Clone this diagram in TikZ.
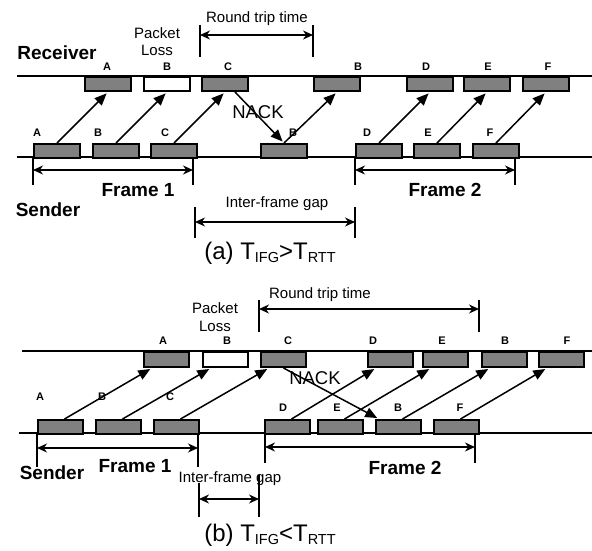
\documentclass[tikz,border=0pt]{standalone}
\usepackage{fontspec}
\setmainfont{Liberation Sans}
\usepackage{tikz}
\usetikzlibrary{arrows.meta}
\definecolor{pktGray}{RGB}{128,128,128}
\newcommand{\tsub}[1]{\raisebox{-3.5pt}{\fontsize{14.5}{14.5}\selectfont #1}}

\begin{document}
\begin{tikzpicture}[x=1pt, y=-1pt,
  pkt/.style={draw, line width=2pt, minimum width=46pt, minimum height=14pt, inner sep=0pt, anchor=north west},
  pktlbl/.style={font=\fontsize{11}{11}\selectfont\bfseries, inner sep=0pt},
  wire/.style={line width=2.2pt},
  sig/.style={-{Triangle[length=12pt,width=10pt]}, line width=1.5pt, shorten >=2pt},
  dim/.style={{Stealth[length=10pt,width=9pt]}-{Stealth[length=10pt,width=9pt]}, line width=1.3pt},
  tick/.style={line width=1.8pt},
  side/.style={font=\fontsize{19}{19}\selectfont\bfseries, inner sep=0pt},
  frametxt/.style={font=\fontsize{19}{19}\selectfont\bfseries, inner sep=0pt},
  small/.style={font=\fontsize{15}{15}\selectfont, inner sep=0pt},
  nack/.style={font=\fontsize{18.5}{18.5}\selectfont, inner sep=0pt},
  caption/.style={font=\fontsize{24}{24}\selectfont, inner sep=0pt}]
\useasboundingbox (0,0) rectangle (592,551);

\draw[wire] (17,76) -- (592,76);
\draw[wire] (17,157) -- (592,157);
\node[side] (recv) at (57,53) {Receiver};
\node[side] (send-a) at (48,210) {Sender};

\foreach \nm/\x/\t/\lx/\fc in {ra/84/A/107/pktGray, rb/143/B/167/white, rc/201/C/228/pktGray, rb2/313/B/358/pktGray, rd/406/D/426/pktGray, re/463/E/488/pktGray, rf/522/F/548/pktGray}{
  \node[pkt, fill=\fc] (\nm) at (\x,76) {};
  \node[pktlbl] (\nm-t) at (\lx,67) {\t};
}
\foreach \nm/\x/\t/\lx in {sa/33/A/37, sb/92/B/98, sc/150/C/165, sb2/260/B/293, sd/355/D/367, se/413/E/428, sf/472/F/490}{
  \node[pkt, fill=pktGray] (\nm) at (\x,143) {};
  \node[pktlbl] (\nm-t) at (\lx,133) {\t};
}
\foreach \s/\r in {sa/ra, sb/rb, sc/rc, sb2/rb2, sd/rd, se/re, sf/rf}
  \draw[sig] (\s.north) -- (\r.south);
\draw[sig] ([xshift=10pt]rc.south) -- (sb2.north);
\node[nack] (nack-a) at (258,112) {NACK};

\node[small] (loss-a1) at (157,33) {Packet};
\node[small] (loss-a2) at (157,50) {Loss};
\node[small] (rtt-a) at (257,19) {Round trip time};
\node[small] (ifg-a) at (277,204) {Inter-frame gap};
\node[frametxt] (fr1-a) at (138,190) {Frame 1};
\node[frametxt] (fr2-a) at (445,190) {Frame 2};
\node[caption] (cap-a) at (270,253) {(a) T\tsub{IFG}>T\tsub{RTT}};

\draw[wire] (22,351) -- (592,351);
\draw[wire] (19,433) -- (592,433);
\node[side] (send-b) at (52,473) {Sender};

\foreach \nm/\x/\t/\lx/\fc in {qa/143/A/163/pktGray, qb/202/B/227/white, qc/260/C/288/pktGray, qd/367/D/373/pktGray, qe/422/E/442/pktGray, qb2/481/B/505/pktGray, qf/538/F/567/pktGray}{
  \node[pkt, fill=\fc, minimum width=45pt, minimum height=15pt] (\nm) at (\x,351) {};
  \node[pktlbl] (\nm-t) at (\lx,341) {\t};
}
\foreach \nm/\x/\t/\lx/\ly in {pa/37/A/40/397, pb/95/B/102/397, pc/153/C/170/397, pd/264/D/283/408, pe/317/E/337/408, pb2/375/B/398/408, pf/433/F/460/408}{
  \node[pkt, fill=pktGray, minimum width=45pt] (\nm) at (\x,419) {};
  \node[pktlbl] (\nm-t) at (\lx,\ly) {\t};
}
\foreach \s/\r in {pa/qa, pb/qb, pc/qc, pd/qd, pe/qe, pb2/qb2, pf/qf}
  \draw[sig] ([xshift=4pt]\s.north) -- ([xshift=9pt]\r.south west);
\draw[sig] (qc.south) -- ([xshift=4pt]pb2.north west);
\node[nack] (nack-b) at (315,378) {NACK};

\node[small] (loss-b1) at (215,308) {Packet};
\node[small] (loss-b2) at (215,326) {Loss};
\node[small] (rtt-b) at (320,295) {Round trip time};
\node[small] (ifg-b) at (230,479) {Inter-frame gap};
\node[frametxt] (fr1-b) at (135,466) {Frame 1};
\node[frametxt] (fr2-b) at (405,468) {Frame 2};
\node[caption] (cap-b) at (270,535) {(b) T\tsub{IFG}<T\tsub{RTT}};

\foreach \x/\ya/\yb in {200/25/57, 313/25/57, 33/157/185, 193/157/185, 355/157/185, 515/157/185, 195/207/238, 355/207/238, 259/300/332, 479/300/332, 37/433/467, 198/433/467, 265/433/463, 475/433/463, 199/483/517, 259/475/517}
  \draw[tick] (\x,\ya) -- (\x,\yb);
\foreach \nm/\xa/\xb/\y in {rtta/200/313/35, f1a/33/193/170, f2a/355/515/170, ifga/195/355/222, rttb/259/479/309, f1b/37/198/448, f2b/265/475/447, ifgb/199/259/499}{
  \coordinate (\nm-l) at (\xa,\y);
  \coordinate (\nm-r) at (\xb,\y);
  \draw[dim] (\nm-l) -- (\nm-r);
}
\end{tikzpicture}
\end{document}
